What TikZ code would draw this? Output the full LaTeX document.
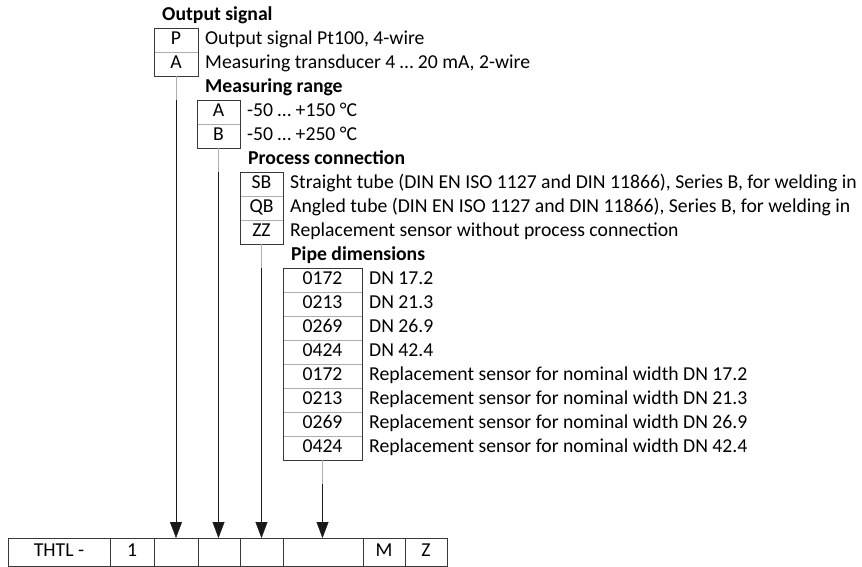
\documentclass[tikz,border=0pt]{standalone}
\usepackage{fontspec}
\setmainfont{Carlito}
\usetikzlibrary{arrows.meta, positioning}
\definecolor{frame}{gray}{0.22}
\definecolor{sep}{gray}{0.68}
\tikzset{
    node distance = 0pt and 7pt, line width=0.9pt,% rows sit on each other, texts 7pt right of their box
    code/.style = {draw=sep, minimum height=24pt, inner sep=0pt, outer sep=0pt, text height=13pt, text depth=4pt, font=\fontsize{19.7}{22}\selectfont},
    desc/.style = {inner sep=0pt, anchor=west, text height=13pt, text depth=4pt, font=\fontsize{19.7}{22}\selectfont},
    header/.style = {inner sep=0pt, text height=13pt, text depth=4pt, font=\fontsize{19.7}{22}\selectfont\bfseries},
    cell/.style = {draw=frame, minimum height=28pt, inner sep=0pt, outer sep=0pt, text height=13pt, text depth=4pt, font=\fontsize{19.7}{22}\selectfont},
    arrow/.style = {draw=black!90, -{Triangle[length=16pt, width=12pt]}}
}

\begin{document}
\begin{tikzpicture}[x=1pt, y=-1pt]
\useasboundingbox (0,0) rectangle (862,567);

% type code
\node[cell, minimum width=102pt] (thtl) at (59,552) {THTL -};
\node[cell, minimum width=44pt, right=0pt of thtl] (one) {1};
\node[cell, minimum width=44pt, right=0pt of one] (c1) {};
\node[cell, minimum width=42pt, right=0pt of c1] (c2) {};
\node[cell, minimum width=43pt, right=0pt of c2] (c3) {};
\node[cell, minimum width=80pt, right=0pt of c3] (c4) {};
\node[cell, minimum width=42pt, right=0pt of c4] (m) {M};
\node[cell, minimum width=42pt, right=0pt of m] (z) {Z};

% output signal
\node[code, minimum width=44pt, anchor=north west] (p) at (154,28) {P};
\node[code, minimum width=44pt, below=of p] (a) {A};
\draw[frame] (p.north west) rectangle (a.south east);
\node[header, above right=3.5pt and 8pt of p.north west, anchor=south west] (hout) {Output signal};
\node[desc, right=of p] (pdesc) {Output signal Pt100, 4-wire};
\node[desc, right=of a] (adesc) {Measuring transducer 4 … 20 mA, 2-wire};

% measuring range
\node[code, minimum width=43pt, anchor=north west] (ra) at (197,100) {A};
\node[code, minimum width=43pt, below=of ra] (rb) {B};
\draw[frame] (ra.north west) rectangle (rb.south east);
\node[header, above right=3.5pt and 8pt of ra.north west, anchor=south west] (hrange) {Measuring range};
\node[desc, right=of ra] (radesc) {-50 … +150 °C};
\node[desc, right=of rb] (rbdesc) {-50 … +250 °C};

% process connection
\node[code, minimum width=43pt, anchor=north west] (sb) at (240,172) {SB};
\node[code, minimum width=43pt, below=of sb] (qb) {QB};
\node[code, minimum width=43pt, below=of qb] (zz) {ZZ};
\draw[frame] (sb.north west) rectangle (zz.south east);
\node[header, above right=3.5pt and 8pt of sb.north west, anchor=south west] (hproc) {Process connection};
\node[desc, right=of sb] (sbdesc) {Straight tube (DIN EN ISO 1127 and DIN 11866), Series B, for welding in};
\node[desc, right=of qb] (qbdesc) {Angled tube (DIN EN ISO 1127 and DIN 11866), Series B, for welding in};
\node[desc, right=of zz] (zzdesc) {Replacement sensor without process connection};

% pipe dimensions
\node[code, minimum width=79pt, anchor=north west] (p172) at (283,268) {0172};
\node[code, minimum width=79pt, below=of p172] (p213) {0213};
\node[code, minimum width=79pt, below=of p213] (p269) {0269};
\node[code, minimum width=79pt, below=of p269] (p424) {0424};
\node[code, minimum width=79pt, below=of p424] (r172) {0172};
\node[code, minimum width=79pt, below=of r172] (r213) {0213};
\node[code, minimum width=79pt, below=of r213] (r269) {0269};
\node[code, minimum width=79pt, below=of r269] (r424) {0424};
\draw[frame] (p172.north west) rectangle (r424.south east);
\node[header, above right=3.5pt and 8pt of p172.north west, anchor=south west] (hpipe) {Pipe dimensions};
\node[desc, right=of p172] {DN 17.2};
\node[desc, right=of p213] {DN 21.3};
\node[desc, right=of p269] {DN 26.9};
\node[desc, right=of p424] {DN 42.4};
\node[desc, right=of r172] {Replacement sensor for nominal width DN 17.2};
\node[desc, right=of r213] {Replacement sensor for nominal width DN 21.3};
\node[desc, right=of r269] {Replacement sensor for nominal width DN 26.9};
\node[desc, right=of r424] {Replacement sensor for nominal width DN 42.4};

% leaders to the type code
\draw[sep] (a.south) -- ++(0,24) coordinate (k1);
\draw[arrow] (k1) -- (k1 |- c1.north);
\draw[sep] (rb.south) -- ++(0,24) coordinate (k2);
\draw[arrow] (k2) -- (k2 |- c2.north);
\draw[sep] (zz.south) -- ++(0,24) coordinate (k3);
\draw[arrow] (k3) -- (k3 |- c3.north);
\draw[sep] (r424.south) -- ++(0,24) coordinate (k4);
\draw[arrow] (k4) -- (k4 |- c4.north);
\end{tikzpicture}
\end{document}
